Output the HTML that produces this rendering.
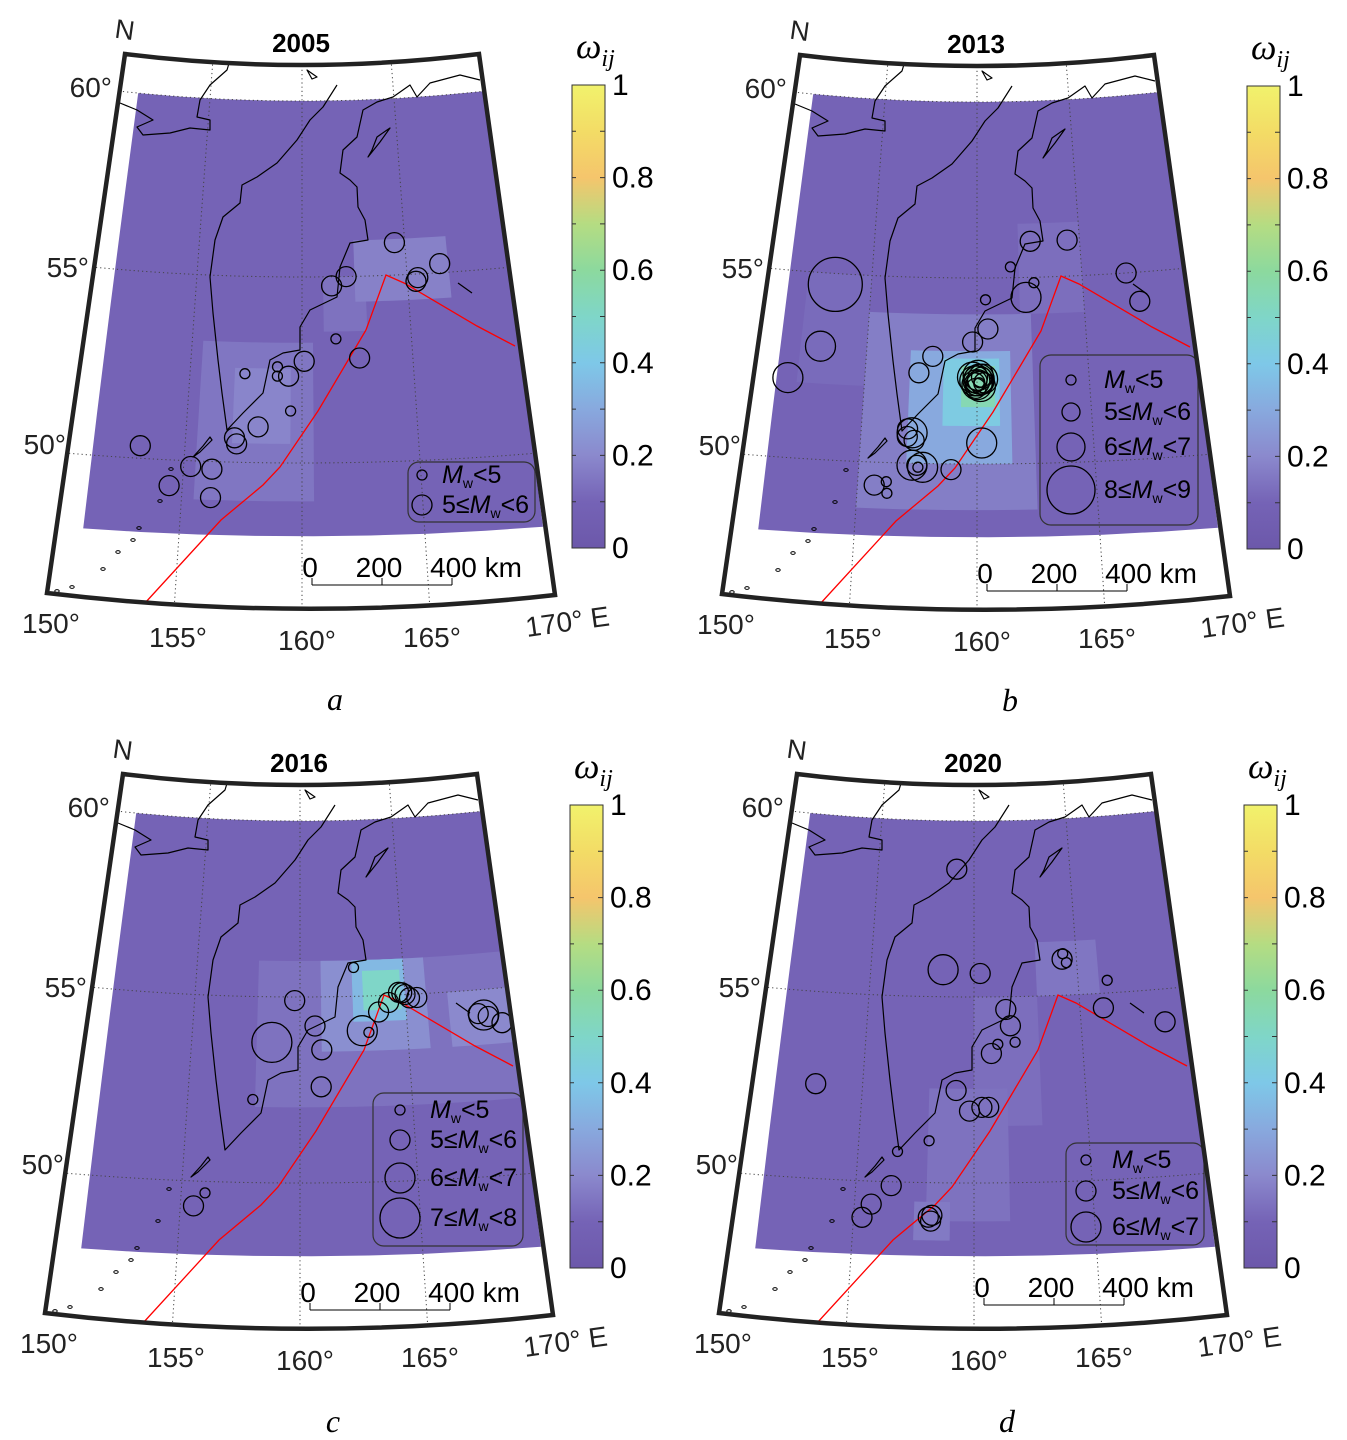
<!DOCTYPE html>
<html><head><meta charset="utf-8">
<style>
html,body{margin:0;padding:0;background:#fff;}
svg{display:block;}
text{font-family:"Liberation Sans",sans-serif;}
.ser{font-family:"Liberation Serif",serif;font-style:italic;}
</style></head>
<body>
<svg id="fig" width="1347" height="1440" viewBox="0 0 1347 1440" xmlns="http://www.w3.org/2000/svg">
<defs>
<linearGradient id="cmap" x1="0" y1="1" x2="0" y2="0">
<stop offset="0" stop-color="#6c58aa"/><stop offset="0.1" stop-color="#7563b6"/>
<stop offset="0.2" stop-color="#8b89cd"/><stop offset="0.3" stop-color="#88a9de"/>
<stop offset="0.4" stop-color="#7ec8e8"/><stop offset="0.5" stop-color="#7fd6c8"/>
<stop offset="0.6" stop-color="#8cd99e"/><stop offset="0.7" stop-color="#b5dc82"/>
<stop offset="0.8" stop-color="#f5c56c"/><stop offset="0.9" stop-color="#f3dc66"/>
<stop offset="1" stop-color="#f1f26c"/>
</linearGradient>
<clipPath id="frameclip"><path d="M125,54 Q302,76 479,54 L555,595 Q302,623.5 47,593 Z"/></clipPath>
</defs>
</svg>
<script>
// ---------- data ----------
const panelYears = ["2005","2013","2016","2020"];
const panelLetters = ["a","b","c","d"];
const cbTicks = [0,0.2,0.4,0.6,0.8,1];
const cbTickLabels = ["0","0.2","0.4","0.6","0.8","1"];
const backgroundValue = 0.1;

// quakes: [lon, lat, Mw]
const quakes2005 = [[164.5,55.9,5.5],[166.6,55.25,5.5],[165.5,54.9,5.5],[165.4,54.8,5.5],[162.1,55.0,5.5],[161.4,54.75,5.5],[161.55,53.3,4.5],[162.6,52.77,5.5],[160.1,52.7,5.5],[159.4,52.3,5.5],[158.9,52.55,4.5],[158.9,52.3,4.5],[157.45,52.35,4.5],[159.5,51.37,4.5],[158.1,50.94,5.5],[157.1,50.64,5.5],[157.2,50.48,5.5],[153.1,50.33,5.5],[156.2,49.8,5.5],[155.3,49.85,5.5],[154.45,49.33,5.5],[156.2,49.06,5.5]];
const quakes2013 = [[153.3,54.7,8.5],[152.9,53.0,6.5],[151.6,52.1,6.5],[160.4,54.4,4.5],[161.6,55.3,4.5],[162.6,56.0,5.5],[162.7,54.85,4.5],[162.3,54.45,6.5],[160.5,53.6,5.5],[159.8,53.25,5.5],[158.0,52.85,5.5],[157.4,52.4,5.5],
 [159.9,52.2,6.3],[160.1,52.25,6.6],[160.0,52.1,6.0],[160.2,52.3,5.8],[159.8,52.3,6.2],[160.3,52.15,5.7],[160.05,52.35,6.4],[159.95,52.0,5.5],[160.15,52.05,6.1],[160.0,52.2,5.2],[160.1,52.15,4.8],[159.9,52.15,5.9],[160.25,52.25,6.0],[160.05,52.2,6.8],
 [157.0,50.9,5.5],[157.2,50.8,6.5],[157.0,50.7,5.5],[157.3,50.6,5.5],[160.2,50.55,6.5],[157.25,49.95,6.5],[157.7,49.9,6.5],[157.45,49.95,5.3],[157.5,49.9,4.5],[158.9,49.85,5.5],[155.7,49.4,5.5],[156.2,49.5,4.5],[156.25,49.2,4.5],[164.4,56.0,5.5],[167.1,55.0,5.5],[167.6,54.2,5.5]];
const quakes2016 = [[162.6,55.8,4.5],[159.75,54.9,5.5],[160.7,54.2,5.5],[158.7,53.75,7.5],[161.0,53.55,5.5],[160.95,52.55,5.5],[157.9,52.2,4.5],[162.9,54.05,6.5],[163.2,54.0,4.5],[163.7,54.55,5.5],[164.2,54.8,5.5],[164.85,55.05,5.5],[165.0,55.0,5.5],[164.7,55.07,5.3],[165.2,54.9,5.8],[165.55,54.9,5.5],[168.6,54.3,6.5],[168.8,54.25,5.5],[168.35,54.35,5.5],[169.4,54.05,5.5],[155.55,49.35,5.5],[156.0,49.7,4.5]];
const quakes2020 = [[159.1,58.6,5.5],[158.5,55.75,6.5],[160.3,55.65,5.5],[164.3,56.0,5.5],[164.35,56.15,4.5],[164.5,55.9,4.5],[166.4,55.35,4.5],[166.1,54.6,5.5],[168.9,54.1,5.5],[161.5,54.65,5.5],[161.7,54.2,5.5],[161.9,53.75,4.5],[161.1,53.7,4.5],[160.8,53.45,5.5],[152.9,52.5,5.5],[159.2,52.45,5.5],[159.8,51.9,5.5],[160.35,52.0,5.5],[160.65,52.0,5.5],[158.05,51.1,4.5],[156.7,50.8,4.5],[156.5,49.9,5.5],[155.7,49.4,5.5],[155.35,49.05,5.5],[158.1,49.1,5.5],[158.25,49.15,5.5],[158.2,49.0,5.3]];

// heat blocks: [lon0, lat0, lon1, lat1, omega]
const heat2005 = [[161,53.5,163,55,0.14],[162.5,54.3,167,56,0.18],[155.5,49,160.5,53.2,0.15],[157,50.5,159.5,52.5,0.19]];
const heat2013 = [[152,52,155,55,0.12],[162,54,165,56.5,0.13],[155,48.8,162.5,54,0.17],[157,50,161.5,53,0.3],[158.5,51,161,52.8,0.42],[159.3,51.5,160.8,52.6,0.55]];
const heat2016 = [[158,52,170,56,0.14],[161,53.5,166,56,0.22],[167,53.5,170,55,0.2],[162.5,54.3,165,56,0.35],[163,54.6,164.8,55.7,0.5]];
const heat2020 = [[160,51.5,163,55,0.13],[158,49,161.5,52.5,0.14],[163,55,166,56.5,0.15],[157.5,48.5,159,49.5,0.16]];

const legend2005 = ["<5","5≤|<6"];
const legend2013 = ["<5","5≤|<6","6≤|<7","8≤|<9"];
const legend2016 = ["<5","5≤|<6","6≤|<7","7≤|<8"];
const legend2020 = ["<5","5≤|<6","6≤|<7"];

// ---------- helpers ----------
const NS="http://www.w3.org/2000/svg";
const svg=document.getElementById('fig');
function mk(tag,attrs,parent){const e=document.createElementNS(NS,tag);for(const k in attrs)e.setAttribute(k,attrs[k]);(parent||svg).appendChild(e);return e;}
function P(lon,lat){const d=55-lat;const s=21+0.52*d;const u=lon-160;return [302+u*s,277+36.2*d+0.2*d*d-10*(u/10)*(u/10)];}
function rad(M){return M<5?5:M<6?10:M<7?15:M<8?20:27;}
const stops=[[0,[108,88,170]],[0.1,[117,99,182]],[0.2,[139,137,205]],[0.3,[136,169,222]],[0.4,[126,200,232]],[0.5,[127,214,200]],[0.6,[140,217,158]],[0.7,[181,220,130]],[0.8,[245,197,108]],[0.9,[243,220,102]],[1,[241,242,108]]];
function cmap(v){v=Math.max(0,Math.min(1,v));for(let i=1;i<stops.length;i++){if(v<=stops[i][0]){const a=stops[i-1],b=stops[i];const t=(v-a[0])/(b[0]-a[0]);const c=a[1].map((x,j)=>Math.round(x+(b[1][j]-x)*t));return `rgb(${c})`;}}return 'rgb(241,242,108)';}
function quadPts(lon0,lat0,lon1,lat1){const pts=[];const n=8;
 for(let i=0;i<=n;i++)pts.push(P(lon0+(lon1-lon0)*i/n,lat1));
 for(let i=0;i<=n;i++)pts.push(P(lon1,lat1+(lat0-lat1)*i/n));
 for(let i=0;i<=n;i++)pts.push(P(lon1+(lon0-lon1)*i/n,lat0));
 for(let i=0;i<=n;i++)pts.push(P(lon0,lat0+(lat1-lat0)*i/n));
 return pts.map(p=>p[0].toFixed(1)+','+p[1].toFixed(1)).join(' ');}

const coastPath="M337,85 L323,107 L310,120 L297,140 L277,163 L257,177 L242,185 L240,203 L223,217 L215,240 L210,277 L213,313 L218,360 L222,393 L227,430 L243,413 L263,393 L270,360 L283,353 L300,350 L300,327 L310,310 L337,297 L340,267 L350,243 L368,240 L365,220 L358,207 L357,187 L350,180 L340,173 L343,150 L357,137 L363,110 L377,102 L393,97 L410,85 L417,97 L430,83 L460,75 L480,80 M230,60 L227,70 L210,85 L200,100 L197,117 L210,120 L210,130 L190,128 L170,133 L143,135 L137,127 L153,120 L137,110 L120,103 M387,130 L377,137 L372,150 L368,157 L380,142 L390,128 Z M307,70 L317,77 L312,79 Z M210,437 L203,446 L193,457 L200,452 L212,440 Z M458,283 L472,293";
const trenchPath="M145,603 L221,520 L263,485 L280,467 L318,411 L366,330 L386,275 L404,283 L477,326 L515,346";
const islands=[[171,469],[160,501],[139,528],[133,540],[118,552],[103,569],[72,587],[57,591]];

const panels=[
 {dx:0,dy:0,q:quakes2005,h:heat2005,leg:legend2005,lr:[5,10],box:[408,462,127,60],lx:422,ly:[475,505],tx:442,sb:577},
 {dx:675,dy:1,q:quakes2013,h:heat2013,leg:legend2013,lr:[5,9,14,24],box:[365,354,158,170],lx:396,ly:[379,411,446,489],tx:429,sb:582},
 {dx:-2,dy:720,q:quakes2016,h:heat2016,leg:legend2016,lr:[5,10,15,20],box:[375,373,150,153],lx:402,ly:[390,420,458,498],tx:432,sb:582},
 {dx:672,dy:720,q:quakes2020,h:heat2020,leg:legend2020,lr:[5,10,15],box:[394,423,138,102],lx:414,ly:[440,471,507],tx:440,sb:577}
];

panels.forEach((p,pi)=>{
 const g=mk('g',{transform:`translate(${p.dx},${p.dy})`});
 
 
 const fb=mk('path',{d:"M125,54 Q302,76 479,54 L555,595 Q302,623.5 47,593 Z",fill:"#fff"},g);
 
 
 const cg=mk('g',{'clip-path':'url(#frameclip)'},g);
 
 
 const bg=mk('polygon',{points:quadPts(151.1,48.1,169.8,60),fill:cmap(backgroundValue)},cg);
 
 
 p.h.forEach((b,bi)=>{
  const c=mk('polygon',{points:quadPts(b[0],b[1],b[2],b[3]),fill:cmap(b[4])},cg);
  
  
 });
 [155,160,165].forEach(lon=>{
  const pts=[];for(let lat=45;lat<=62;lat+=0.5)pts.push(P(lon,lat).join(','));
  const l=mk('polyline',{points:pts.join(' '),fill:'none',stroke:'#444','stroke-width':1,'stroke-dasharray':'1.2,3'},cg);
  
  
 });
 [50,55,60].forEach(lat=>{
  const pts=[];for(let lon=148;lon<=172;lon+=0.5)pts.push(P(lon,lat).join(','));
  const l=mk('polyline',{points:pts.join(' '),fill:'none',stroke:'#444','stroke-width':1,'stroke-dasharray':'1.2,3'},cg);
  
  
 });
 const co=mk('path',{d:coastPath,fill:'none',stroke:'#000','stroke-width':1.2,'stroke-linejoin':'round'},cg);
 
 
 islands.forEach(pt=>{
  const e=mk('ellipse',{cx:pt[0],cy:pt[1],rx:2.2,ry:1.4,fill:'none',stroke:'#000','stroke-width':1},cg);
  
  
 });
 const tr=mk('path',{d:trenchPath,fill:'none',stroke:'#f00','stroke-width':1.3},cg);
 
 
 p.q.forEach(q=>{
  const xy=P(q[0],q[1]);
  const c=mk('circle',{cx:xy[0].toFixed(1),cy:xy[1].toFixed(1),r:rad(q[2]),fill:'none',stroke:'#000','stroke-width':1.3},cg);
  
  
 });
 const lg=mk('g',{},g);
 
 
 mk('rect',{x:p.box[0],y:p.box[1],width:p.box[2],height:p.box[3],rx:11,fill:'none',stroke:'#333','stroke-width':1.2},lg);
 p.leg.forEach((s,i)=>{
  const c=mk('circle',{cx:p.lx,cy:p.ly[i],r:p.lr[i],fill:'none',stroke:'#000','stroke-width':1.3},lg);
  
  
  const t=mk('text',{x:p.tx,y:p.ly[i]+8,'font-size':25},lg);
  
  
  const parts=s.split('|');
  if(parts.length===1){
   const a=mk('tspan',{'font-style':'italic'},t);a.textContent='M';
   const b=mk('tspan',{'font-size':14,dy:5},t);b.textContent='w';
   const c2=mk('tspan',{dy:-5},t);c2.textContent=s;
  }else{
   const z=mk('tspan',{},t);z.textContent=parts[0];
   const a=mk('tspan',{'font-style':'italic'},t);a.textContent='M';
   const b=mk('tspan',{'font-size':14,dy:5},t);b.textContent='w';
   const c2=mk('tspan',{dy:-5},t);c2.textContent=parts[1];
  }
 });
 const fr=mk('path',{d:"M125,54 Q302,76 479,54 L555,595 Q302,623.5 47,593 Z",fill:'none',stroke:'#222','stroke-width':4.5,'stroke-linejoin':'miter'},g);
 
 
 const lbls=[["60°",112,97,'end'],["55°",89,277,'end'],["50°",66,454,'end'],["150°",51,633,'middle'],["155°",178,647,'middle'],["160°",307,650,'middle'],["165°",432,647,'middle']];
 lbls.forEach(L=>{
  const t=mk('text',{x:L[1],y:L[2],'font-size':28,'text-anchor':L[3],fill:'#222'},g);
  t.textContent=L[0];
  
  
 });
 const te=mk('text',{x:527,y:637,'font-size':28,fill:'#222',transform:'rotate(-8 527 637)'},g);
 te.textContent='170° E';
 
 
 const tn=mk('text',{x:115,y:39,'font-size':27,fill:'#222',transform:'rotate(8 125 30)'},g);
 tn.textContent='N';
 
 
 const tt=mk('text',{x:301,y:52,'font-size':26,'font-weight':'bold','text-anchor':'middle'},g);
 tt.textContent=panelYears[pi];
 
 
 const sg=mk('g',{},g);
 
 
 [["0",310],["200",379],["400 km",476]].forEach(S=>{
  const t=mk('text',{x:S[1],y:p.sb,'font-size':28,'text-anchor':'middle'},sg);t.textContent=S[0];
 });
 mk('path',{d:`M312,${p.sb+8} L452,${p.sb+8} M312,${p.sb+1} L312,${p.sb+8} M382,${p.sb+1} L382,${p.sb+8} M452,${p.sb+1} L452,${p.sb+8}`,stroke:'#000','stroke-width':1,fill:'none'},sg);
 const cb=mk('g',{},g);
 
 
 const y0=548,y1=85,cx=572,cw=33;
 function cy(v){return y0+(y1-y0)*v;}
 mk('rect',{x:cx,y:y1,width:cw,height:y0-y1,fill:'url(#cmap)',stroke:'#333','stroke-width':1},cb);
 for(let k=1;k<10;k++){const yy=cy(k/10);mk('path',{d:`M${cx+cw},${yy} L${cx+cw-5},${yy} M${cx},${yy} L${cx+4},${yy}`,stroke:'#333','stroke-width':1},cb);}
 cbTicks.forEach((v,i)=>{
  const t=mk('text',{x:cx+40,y:cy(v)+10,'font-size':30},cb);t.textContent=cbTickLabels[i];
  
  
 });
 const ct=mk('text',{x:576,y:58,'font-size':36,class:'ser'},cb);
 const w1=mk('tspan',{},ct);w1.textContent='ω';
 const w2=mk('tspan',{'font-size':24,dy:8},ct);w2.textContent='ij';
 
 
 const pl=mk('text',{x:335,y:pi<2?710:712,'font-size':32,class:'ser','text-anchor':'middle'},g);
 pl.textContent=panelLetters[pi];
 
 
});
</script>
</body></html>
